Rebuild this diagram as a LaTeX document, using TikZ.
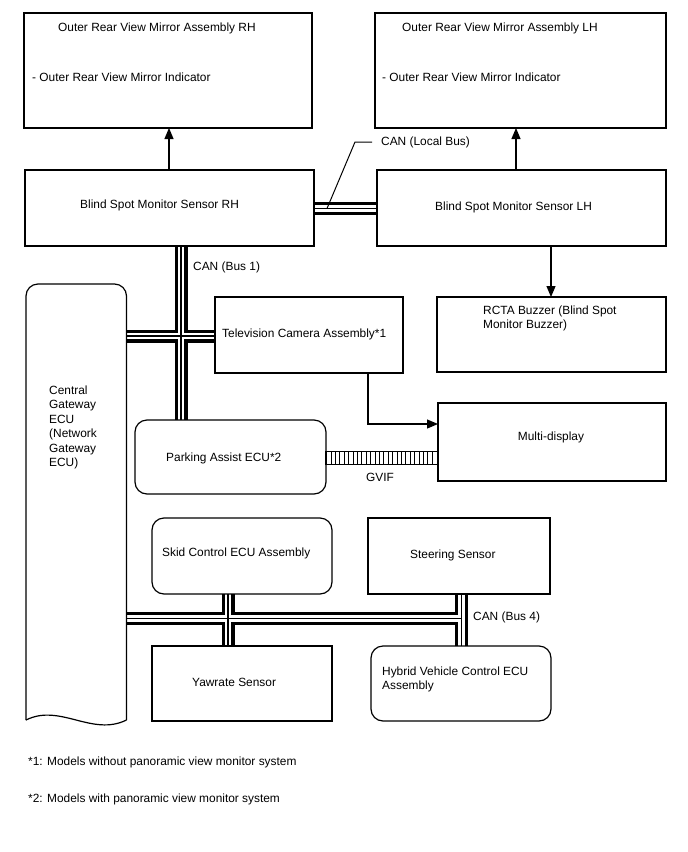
\documentclass[tikz,border=0pt]{standalone}
\usepackage{fontspec}
\setmainfont{Liberation Sans}
\usetikzlibrary{arrows.meta,calc}
\pgfdeclarelayer{back}
\pgfdeclarelayer{bg}
\pgfsetlayers{back,bg,main}
\newcommand\mkbox[6]{%
  \pgfmathsetmacro\bxw{#5-#3}\pgfmathsetmacro\bxh{#6-#4}%
  \node[#1, minimum width=\bxw pt, minimum height=\bxh pt, anchor=north west] (#2) at (#3,#4) {};}
\begin{document}
\begin{tikzpicture}[x=1pt,y=-1pt,
  bx/.style={draw,line width=1.2pt,rectangle,outer sep=0pt,inner sep=0pt},
  rbx/.style={bx,rounded corners=12pt},
  nb/.style={rectangle,outer sep=0pt,inner sep=0pt},
  lbl/.style={inner sep=0pt,anchor=base west,font=\fontsize{11.9}{14.2}\selectfont},
  arr/.style={line width=1.2pt,-{Triangle[length=11pt,width=9pt]}},
  busA/.style={line width=13pt,black},
  busB/.style={line width=6.5pt,white},
  busC/.style={line width=1.3pt,black},
]
\useasboundingbox (0,0) rectangle (688,852);
\begin{pgfonlayer}{back}
\fill[white] (0,0) rectangle (688,852);
\end{pgfonlayer}

% boxes
\mkbox{bx}{orh}{24}{13}{312}{128}
\mkbox{bx}{olh}{375}{13}{666}{128}
\mkbox{bx}{bsmR}{25}{170}{314}{246}
\mkbox{bx}{bsmL}{377}{170}{666}{246}
\mkbox{bx}{rcta}{437}{297}{666}{372}
\mkbox{bx}{tv}{215}{297}{403}{373}
\mkbox{rbx}{pa}{135}{420}{326}{494}
\mkbox{bx}{md}{438}{403}{666}{481}
\mkbox{rbx}{skid}{152}{518}{332}{594}
\mkbox{bx}{steer}{368}{518}{550}{594}
\mkbox{bx}{yaw}{152}{646}{332}{721}
\mkbox{rbx}{hyb}{371}{646}{551}{721}
\mkbox{nb}{gw}{26}{284}{126.5}{720}

% central gateway outline (document shape)
\draw[line width=1.2pt,rounded corners=12pt] (gw.south west) -- (gw.north west) -- (gw.north east) -- (gw.south east);
\draw[line width=1.2pt] (gw.south east) .. controls (92,737) and (60,703) .. (gw.south west);

% helper coordinates
\coordinate (c1) at (181,336);
\coordinate (lb) at (0,208.5);
\coordinate (c4) at (228,618.3);
\coordinate (c4r) at (461.7,618.3);
\coordinate (gv) at (0,458.3);
\coordinate (tvx) at (368,424);
\coordinate (a1) at (169,0);
\coordinate (a2) at (516,0);
\coordinate (a3) at (551,0);

% buses
\begin{pgfonlayer}{bg}
\foreach \s in {busA,busB,busC}{
  \draw[\s] (bsmR.east |- lb) -- (bsmL.west |- lb);
  \draw[\s] (bsmR.south -| c1) -- (pa.north -| c1) (gw.east |- c1) -- (tv.west |- c1);
  \draw[\s] (gw.east |- c4) -- (c4r) (skid.south -| c4) -- (yaw.north -| c4) (steer.south -| c4r) -- (hyb.north -| c4r);
}
\end{pgfonlayer}

% GVIF
\draw[line width=1.2pt] ($(pa.east |- gv)+(0,-6.5)$) rectangle ($(md.west |- gv)+(0,6.5)$);
\foreach \i in {0,...,23} \draw[line width=0.9pt] (331+4.4*\i,451.8) -- (331+4.4*\i,464.8);

% arrows
\draw[arr] (bsmR.north -| a1) -- (orh.south -| a1);
\draw[arr] (bsmL.north -| a2) -- (olh.south -| a2);
\draw[arr] (bsmL.south -| a3) -- (rcta.north -| a3);
\draw[arr] (tv.south -| tvx) |- (md.west |- tvx);

% CAN local bus leader
\coordinate (ld) at (327,208.5);
\node[lbl] (t7) at (381,145) {CAN (Local Bus)};
\draw[line width=1pt] ($(t7.base west)+(-9,-3)$) -- ($(t7.base west)+(-26,-3)$) -- (ld);

% texts
\node[lbl] (t1) at (58,31) {Outer Rear View Mirror Assembly RH};
\node[lbl] (t2) at (32,81) {- Outer Rear View Mirror Indicator};
\node[lbl] (t3) at (402,31) {Outer Rear View Mirror Assembly LH};
\node[lbl] (t4) at (382,81) {- Outer Rear View Mirror Indicator};
\node[lbl] (t5) at (80,208) {Blind Spot Monitor Sensor RH};
\node[lbl] (t6) at (435,210) {Blind Spot Monitor Sensor LH};
\node[lbl] (t8) at (193,270) {CAN (Bus 1)};
\node[lbl] (t9) at (483,314.5) {RCTA Buzzer (Blind Spot};
\node[lbl] (t10) at (483,328.5) {Monitor Buzzer)};
\node[lbl] (t11) at (222,337) {Television Camera Assembly*1};
\foreach \t [count=\i] in {Central,Gateway,ECU,{(Network},Gateway,{ECU)}}
  \node[lbl] (g\i) at (49,394+14.5*\i-14.5) {\t};
\node[lbl,anchor=base] (t12) at (551,440) {Multi-display};
\node[lbl] (t13) at (166,461) {Parking Assist ECU*2};
\node[lbl] (t14) at (366,481) {GVIF};
\node[lbl] (t15) at (162,556) {Skid Control ECU Assembly};
\node[lbl] (t16) at (410,558) {Steering Sensor};
\node[lbl] (t17) at (473,620) {CAN (Bus 4)};
\node[lbl] (t18) at (192,686) {Yawrate Sensor};
\node[lbl] (t19) at (382,675) {Hybrid Vehicle Control ECU};
\node[lbl] (t20) at (382,689) {Assembly};
\node[lbl] (t21) at (28,765) {*1: Models without panoramic view monitor system};
\node[lbl] (t22) at (28,802) {*2: Models with panoramic view monitor system};
\end{tikzpicture}
\end{document}
